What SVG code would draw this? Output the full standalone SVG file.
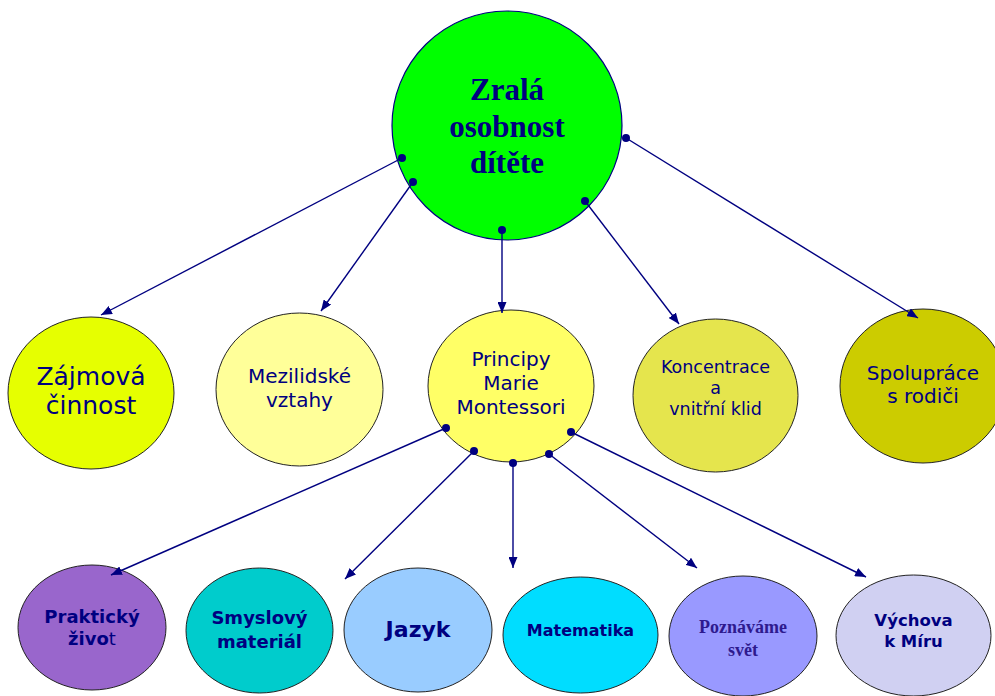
<svg xmlns="http://www.w3.org/2000/svg" width="995" height="696" viewBox="0 0 995 696">
<defs>
<marker id="arr" markerWidth="11" markerHeight="9" refX="11" refY="4.5" orient="auto" markerUnits="userSpaceOnUse">
<path d="M0,0 L11,4.5 L0,9 z" fill="#000080"/>
</marker>
<style>
.ell{stroke:#222;stroke-width:1}
.conn line{stroke:#000080;stroke-width:1.4;marker-end:url(#arr)}
.conn circle{fill:#000080}
.s{font-family:"DejaVu Sans",Verdana,sans-serif;fill:#000080;text-anchor:middle}
.b{font-family:"DejaVu Sans",Verdana,sans-serif;font-weight:bold;fill:#000080;text-anchor:middle}
.t{font-family:"Liberation Serif","Times New Roman",serif;font-weight:bold;fill:#000080;text-anchor:middle}
</style>
</defs>
<rect width="995" height="696" fill="#ffffff"/>

<g id="root">
<ellipse cx="507" cy="125.5" rx="115" ry="114.5" fill="#00FF00" stroke="#000080" stroke-width="1.2"/>
<text class="t" font-size="31"><tspan x="507" y="100">Zralá</tspan><tspan x="507" y="137">osobnost</tspan><tspan x="507" y="173">dítěte</tspan></text>
</g>

<g id="zajmova">
<ellipse class="ell" cx="91" cy="393" rx="83" ry="76" fill="#E6FF00"/>
<text class="s" font-size="25"><tspan x="91" y="385">Zájmová</tspan><tspan x="91" y="414">činnost</tspan></text>
</g>

<g id="mezilidske">
<ellipse class="ell" cx="299.5" cy="389.5" rx="83.5" ry="76.5" fill="#FFFF99"/>
<text class="s" font-size="20"><tspan x="299.5" y="383">Mezilidské</tspan><tspan x="299.5" y="407">vztahy</tspan></text>
</g>

<g id="principy">
<ellipse class="ell" cx="511" cy="386" rx="83" ry="76" fill="#FFFF66"/>
<text class="s" font-size="20"><tspan x="511" y="366">Principy</tspan><tspan x="511" y="390">Marie</tspan><tspan x="511" y="414">Montessori</tspan></text>
</g>

<g id="koncentrace">
<ellipse class="ell" cx="715.5" cy="395.5" rx="82.5" ry="76.5" fill="#E5E54D"/>
<text class="s" font-size="17.5"><tspan x="715.5" y="373">Koncentrace</tspan><tspan x="715.5" y="394">a</tspan><tspan x="715.5" y="415">vnitřní klid</tspan></text>
</g>

<g id="spoluprace">
<ellipse class="ell" cx="923" cy="386" rx="83" ry="77" fill="#CCCC00"/>
<text class="s" font-size="20"><tspan x="923" y="380">Spolupráce</tspan><tspan x="923" y="403">s rodiči</tspan></text>
</g>

<g id="prakticky">
<ellipse class="ell" cx="92" cy="627.5" rx="74" ry="62.5" fill="#9966CC"/>
<text class="b" font-size="18"><tspan x="92" y="623">Praktický</tspan><tspan x="92" y="645">živo<tspan font-weight="normal">t</tspan></tspan></text>
</g>

<g id="smyslovy">
<ellipse class="ell" cx="259.5" cy="630.5" rx="73.5" ry="62.5" fill="#00CCCC"/>
<text class="b" font-size="18"><tspan x="259.5" y="624">Smyslový</tspan><tspan x="259.5" y="648">materiál</tspan></text>
</g>

<g id="jazyk">
<ellipse class="ell" cx="418" cy="630" rx="74" ry="62" fill="#99CCFF"/>
<text class="b" font-size="22" x="418" y="637">Jazyk</text>
</g>

<g id="matematika">
<ellipse class="ell" cx="580.5" cy="635" rx="77.5" ry="58" fill="#00DDFF"/>
<text class="b" font-size="16" x="580.5" y="636">Matematika</text>
</g>

<g id="poznavame">
<ellipse class="ell" cx="743" cy="636" rx="74" ry="60" fill="#9999FF"/>
<text class="t" font-size="18" fill="#2E1A8E" style="fill:#2E1A8E"><tspan x="743" y="633">Poznáváme</tspan><tspan x="743" y="656">svět</tspan></text>
</g>

<g id="vychova">
<ellipse class="ell" cx="913.5" cy="635.5" rx="77.5" ry="60.5" fill="#D0D0F2"/>
<text class="b" font-size="16.5"><tspan x="913.5" y="626">Výchova</tspan><tspan x="913.5" y="647">k Míru</tspan></text>
</g>

<g id="connectors" class="conn">
<line x1="402" y1="158" x2="101" y2="315"/>
<line x1="413" y1="182" x2="321" y2="311"/>
<line x1="502" y1="230" x2="502" y2="313"/>
<line x1="585" y1="201" x2="679" y2="324"/>
<line x1="626" y1="138" x2="918" y2="318"/>
<line x1="446" y1="428" x2="111" y2="575"/>
<line x1="474" y1="451" x2="345" y2="579"/>
<line x1="513" y1="463" x2="513" y2="568"/>
<line x1="549" y1="454" x2="697" y2="568"/>
<line x1="571" y1="432" x2="866" y2="577"/>
<circle cx="402" cy="158" r="4"/>
<circle cx="413" cy="182" r="4"/>
<circle cx="502" cy="230" r="4"/>
<circle cx="585" cy="201" r="4"/>
<circle cx="626" cy="138" r="4"/>
<circle cx="446" cy="428" r="4"/>
<circle cx="474" cy="451" r="4"/>
<circle cx="513" cy="463" r="4"/>
<circle cx="549" cy="454" r="4"/>
<circle cx="571" cy="432" r="4"/>
</g>
</svg>
